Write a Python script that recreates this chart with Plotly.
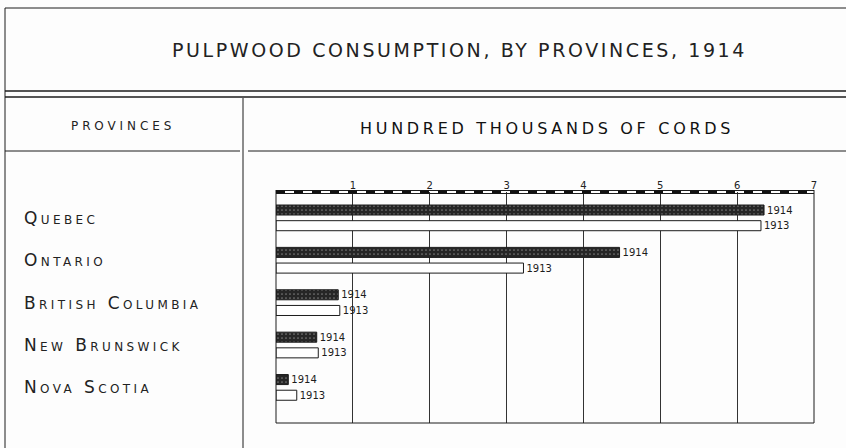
import plotly.graph_objects as go

# ---- data ----
provinces = ["Quebec", "Ontario", "British Columbia", "New Brunswick", "Nova Scotia"]
cords_1914 = [6.35, 4.47, 0.81, 0.53, 0.16]
cords_1913 = [6.31, 3.22, 0.83, 0.55, 0.27]
year_labels = ["1914", "1913"]
tick_values = [1, 2, 3, 4, 5, 6, 7]
tick_labels = ["1", "2", "3", "4", "5", "6", "7"]
title_text = "PULPWOOD CONSUMPTION, BY PROVINCES, 1914"
left_header = "PROVINCES"
right_header = "HUNDRED THOUSANDS OF CORDS"

# ---- layout geometry (pixels) ----
W, H = 846, 448
L, R, T, B = 276, 32, 192, 25
pw, ph = W - L - R, H - T - B
INK = "#1c1c1c"
FONT = "DejaVu Sans"


def px(x):
    return (x - L) / pw


def py(y):
    return (H - B - y) / ph


fig = go.Figure()
fig.add_trace(go.Bar(
    y=provinces, x=cords_1914, orientation="h", name=year_labels[0],
    marker=dict(color="#262626", line=dict(color=INK, width=1),
                pattern=dict(shape=".", bgcolor="#262626", fgcolor="#7a7a7a",
                             size=4, solidity=0.15, fillmode="replace")),
    text=[year_labels[0]] * len(provinces), textposition="outside",
    constraintext="none", cliponaxis=False,
    textfont=dict(family=FONT, size=10, color=INK),
))
fig.add_trace(go.Bar(
    y=provinces, x=cords_1913, orientation="h", name=year_labels[1],
    marker=dict(color="white", line=dict(color=INK, width=1)),
    text=[year_labels[1]] * len(provinces), textposition="outside",
    constraintext="none", cliponaxis=False,
    textfont=dict(family=FONT, size=10, color=INK),
))

shapes = []


def hline(y, x0, x1, w=1, dash="solid", color=INK):
    shapes.append(dict(type="line", xref="paper", yref="paper",
                       x0=px(x0), x1=px(x1), y0=py(y), y1=py(y),
                       line=dict(color=color, width=w, dash=dash)))


def vline(x, y0, y1, w=1, color=INK):
    shapes.append(dict(type="line", xref="paper", yref="paper",
                       x0=px(x), x1=px(x), y0=py(y0), y1=py(y1),
                       line=dict(color=color, width=w)))


# outer frame / table rules
hline(8, 5, 846)
vline(5, 8, 448)
hline(91, 5, 846, w=1.3)
hline(97, 5, 846, w=1.3)
vline(243, 98, 448)
hline(151, 5, 240)
hline(151, 248, 846)
# plot frame
vline(276, 190, 423)
hline(423, 276, 814)
vline(814, 190, 423)
hline(190.5, 276, 814, w=1)
hline(193.5, 276, 814, w=1)
hline(192, 276, 814, w=3, dash="dash", color="#111")
fig.update_layout(shapes=shapes)

ann = []
ann.append(dict(text=f'<span style="letter-spacing:2.6px">{title_text}</span>',
                x=px(459), y=py(50), xref="paper", yref="paper",
                showarrow=False, xanchor="center", yanchor="middle",
                font=dict(family=FONT, size=19, color="#222")))
ann.append(dict(text=f'<span style="letter-spacing:3.9px">{left_header}</span>',
                x=px(123), y=py(126), xref="paper", yref="paper",
                showarrow=False, xanchor="center", yanchor="middle",
                font=dict(family=FONT, size=12, color="#222")))
ann.append(dict(text=f'<span style="letter-spacing:3.7px">{right_header}</span>',
                x=px(547), y=py(128), xref="paper", yref="paper",
                showarrow=False, xanchor="center", yanchor="middle",
                font=dict(family=FONT, size=16, color="#111")))
for p in provinces:
    ann.append(dict(text=f'<span style="letter-spacing:3.4px">{p}</span>',
                    x=px(22), y=p, xref="paper", yref="y",
                    showarrow=False, xanchor="left", yanchor="middle",
                    font=dict(family=FONT, size=17, color="#222", variant="small-caps")))
fig.update_layout(annotations=ann)

fig.update_layout(
    width=W, height=H,
    margin=dict(l=L, r=R, t=T, b=B, autoexpand=False),
    paper_bgcolor="#fdfdfd", plot_bgcolor="#fdfdfd",
    barmode="group", bargap=0.26, bargroupgap=0.36,
    showlegend=False,
    xaxis=dict(range=[0, 7], side="top", tickvals=tick_values, ticktext=tick_labels,
               showgrid=True, gridcolor="#333", gridwidth=1, zeroline=False,
               showline=False, ticks="", tickfont=dict(family=FONT, size=10, color="#222"),
               fixedrange=True),
    yaxis=dict(range=[4.84, -0.61], showticklabels=False, showgrid=False,
               zeroline=False, showline=False, ticks="", fixedrange=True),
)

fig.write_html("out.html", config={"displayModeBar": False},
               post_script="document.body.style.margin='0';")
